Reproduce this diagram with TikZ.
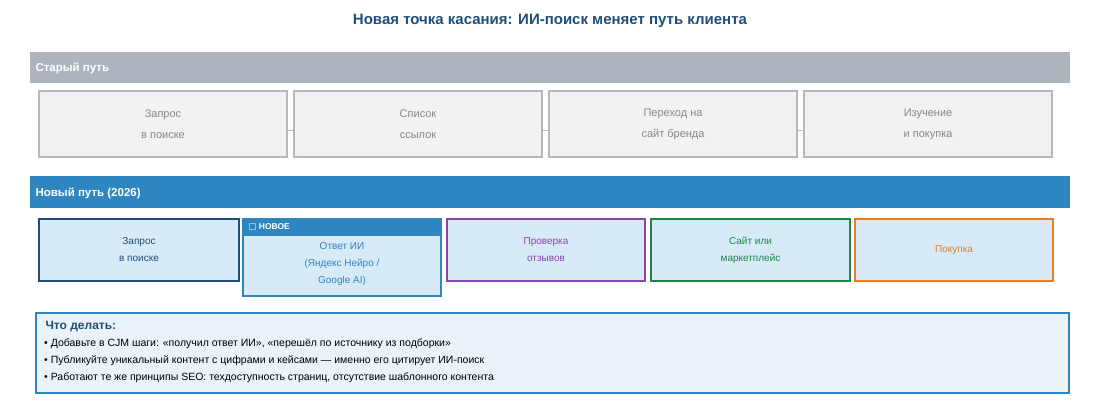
\documentclass[tikz,border=0pt]{standalone}
\usepackage{fontspec}
\setmainfont{Liberation Sans}
\newfontfamily\djv{DejaVu Sans}
\definecolor{navy}{HTML}{1F4E79}
\definecolor{blu}{HTML}{2E86C1}
\definecolor{lb}{HTML}{D6EAF8}
\definecolor{gr}{HTML}{AEB4BD}
\definecolor{ogr}{HTML}{B4B8C0}
\definecolor{otx}{HTML}{888888}
\definecolor{pur}{HTML}{8E44AD}
\definecolor{grn}{HTML}{1E8449}
\definecolor{org}{HTML}{E67E22}
\begin{document}
\begin{tikzpicture}[x=1pt,y=-1pt,
 oldbox/.style={draw=ogr,fill=black!5,line width=1.5pt,text=otx,font=\fontsize{11}{21}\selectfont,align=center},
 newbox/.style={fill=lb,line width=1.5pt,font=\fontsize{10}{17}\selectfont,align=center},
 bar/.style={text=white,font=\bfseries\fontsize{11.5}{13}\selectfont,anchor=west}]
\useasboundingbox (0,0) rectangle (1100,400);
\node[text=navy,font=\bfseries\fontsize{15}{17}\selectfont] (t) at (550,21) {Новая точка касания: ИИ-поиск меняет путь клиента};
\fill[gr] (30,52) rectangle (1070,83);
\node[bar] (h1) at (32,68) {Старый путь};
\draw[oldbox] (39,91) rectangle (287,157) node[midway] (o1) {Запрос\\в поиске};
\draw[oldbox] (294,91) rectangle (542,157) node[midway] (o2) {Список\\ссылок};
\draw[oldbox] (549,91) rectangle (797,157) node[midway] (o3) {Переход на\\сайт бренда};
\draw[oldbox] (804,91) rectangle (1052,157) node[midway] (o4) {Изучение\\и покупка};
\coordinate (a1) at (287,130); \coordinate (b1) at (294,130);
\coordinate (a2) at (542,130); \coordinate (b2) at (549,130);
\coordinate (a3) at (797,130); \coordinate (b3) at (804,130);
\draw[ogr] (a1)--(b1) (a2)--(b2) (a3)--(b3);
\fill[blu] (30,176) rectangle (1070,208);
\node[bar] (h2) at (32,193) {Новый путь (2026)};
\draw[newbox,draw=navy] (39,219) rectangle (239,281) node[midway,text=navy] (n1) {Запрос\\в поиске};
\draw[newbox,draw=blu] (243,219) rectangle (441,296);
\fill[blu] (243,219) rectangle (441,236);
\node[anchor=west,text=white,font=\bfseries\fontsize{8.5}{10}\selectfont] (nw) at (245,227.5) {{\djv□} НОВОЕ};
\node[text=blu,align=center,font=\fontsize{10}{17}\selectfont] (n2) at (342,264) {Ответ ИИ\\(Яндекс Нейро /\\Google AI)};
\draw[newbox,draw=pur] (447,219) rectangle (645,281) node[midway,text=pur] (n3) {Проверка\\отзывов};
\draw[newbox,draw=grn] (651,219) rectangle (850,281) node[midway,text=grn] (n4) {Сайт или\\маркетплейс};
\draw[newbox,draw=org] (855,219) rectangle (1053,281) node[midway,text=org] (n5) {Покупка};
\draw[blu,fill=blu!10,line width=1.5pt] (36,313) rectangle (1069,393);
\node[anchor=west,text=navy,font=\bfseries\fontsize{12}{14}\selectfont] (w) at (42,327) {Что делать:};
\node[anchor=north west,align=left,font=\fontsize{10.5}{17}\selectfont,inner sep=0pt] (l) at (44,339) {• Добавьте в CJM шаги: «получил ответ ИИ», «перешёл по источнику из подборки»\\• Публикуйте уникальный контент с цифрами и кейсами — именно его цитирует ИИ-поиск\\• Работают те же принципы SEO: техдоступность страниц, отсутствие шаблонного контента};
\end{tikzpicture}
\end{document}
